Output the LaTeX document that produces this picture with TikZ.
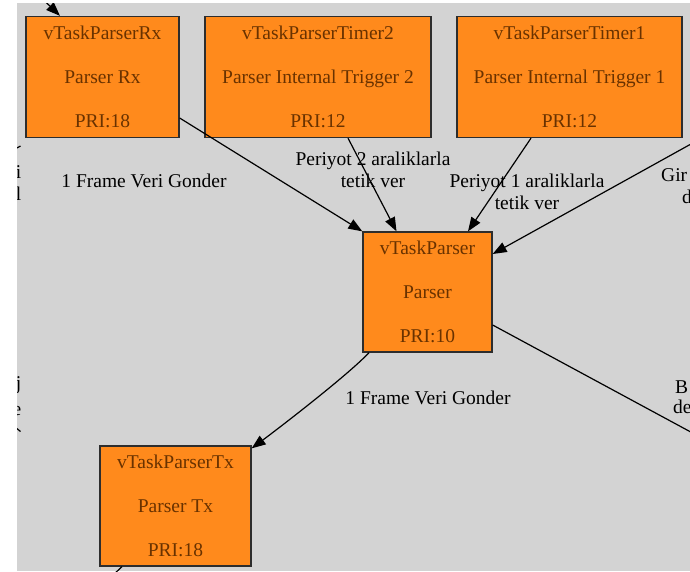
\documentclass[tikz,border=0pt]{standalone}
\usepackage{fontspec}
\setmainfont{Liberation Serif}
\usetikzlibrary{arrows.meta,calc}
\definecolor{bg}{RGB}{211,211,211}
\definecolor{boxfill}{RGB}{255,138,28}
\definecolor{boxtext}{RGB}{105,50,0}
\definecolor{boxline}{RGB}{45,45,45}
\tikzset{
  task/.style={draw=boxline, line width=1.3pt, fill=boxfill, text=boxtext,
    align=center, inner sep=0pt, font=\fontsize{19.5}{44}\selectfont},
  conn/.style={line width=1.2pt, -{Triangle[length=14pt,width=10.5pt]}},
  plainline/.style={line width=1.2pt},
  lbl/.style={font=\fontsize{19.5}{21.5}\selectfont, align=center, inner sep=0pt},
}
\begin{document}
\begin{tikzpicture}[x=1pt,y=-1pt]
\useasboundingbox (0,0) rectangle (690,571);
\fill[bg] (17,3) rectangle (690,571);
\begin{scope}
\clip (17,3) rectangle (690,571);
% nodes
\node[task, minimum width=153pt, minimum height=121pt] (rx) at (102.5,77) {vTaskParserRx\\Parser Rx\\PRI:18};
\node[task, minimum width=226pt, minimum height=121pt] (t2) at (318,77) {vTaskParserTimer2\\Parser Internal Trigger 2\\PRI:12};
\node[task, minimum width=225pt, minimum height=121pt] (t1) at (569.5,77) {vTaskParserTimer1\\Parser Internal Trigger 1\\PRI:12};
\node[task, minimum width=129pt, minimum height=120pt] (parser) at (427.5,292) {vTaskParser\\Parser\\PRI:10};
\node[task, minimum width=151pt, minimum height=120pt] (tx) at (175.5,506) {vTaskParserTx\\Parser Tx\\PRI:18};
% free ends
\coordinate (inA) at (36,-7.5);
\coordinate (inB) at (700,139);
\coordinate (outB) at (700,437);
\coordinate (outC) at (112,576);
\coordinate (tickA1) at (15,149);
\coordinate (tickA2) at (20.5,146);
\coordinate (tickB1) at (15,427);
\coordinate (tickB2) at (20.5,431.5);
% connectors
\draw[conn] (inA) -- ([xshift=-42.5pt]rx.north);
\draw[conn] ([yshift=-41pt]rx.east) -- (parser.north west);
\draw[conn] ([xshift=30pt]t2.south) -- ([xshift=-31pt]parser.north);
\draw[conn] ([xshift=-38.5pt]t1.south) -- ([xshift=40.5pt]parser.north);
\draw[conn] (inB) -- ([yshift=38pt]parser.east);
\draw[conn] ([xshift=-58.5pt]parser.south) .. controls (349,374) and (283,425) .. ([yshift=-3pt]tx.north east);
\draw[plainline] ([yshift=-33pt]parser.east) -- (outB);
\draw[plainline] ([xshift=-53.5pt]tx.south) -- (outC);
\draw[plainline] (tickA1) -- (tickA2);
\draw[plainline] (tickB1) -- (tickB2);
% labels
\node[lbl, anchor=base] (l1) at (144,187) {1 Frame Veri Gonder};
\node[lbl] (l2) at (373,170) {Periyot 2 araliklarla\\tetik ver};
\node[lbl] (l3) at (527,192) {Periyot 1 araliklarla\\tetik ver};
\node[lbl, anchor=base] (l4) at (428,404) {1 Frame Veri Gonder};
\node[lbl, anchor=base west] (l5a) at (661,181) {Gir};
\node[lbl, anchor=base west] (l5b) at (682,203) {d};
\node[lbl, anchor=base west] (l6a) at (675,393) {B};
\node[lbl, anchor=base west] (l6b) at (673,413) {de};
\node[lbl, anchor=base east] (l7a) at (21.5,178) {i};
\node[lbl, anchor=base east] (l7b) at (21.5,200) {l};
\node[lbl, anchor=base east] (l8a) at (21.5,389) {j};
\node[lbl, anchor=base east] (l8b) at (21.5,415) {e};
\end{scope}
\end{tikzpicture}
\end{document}
